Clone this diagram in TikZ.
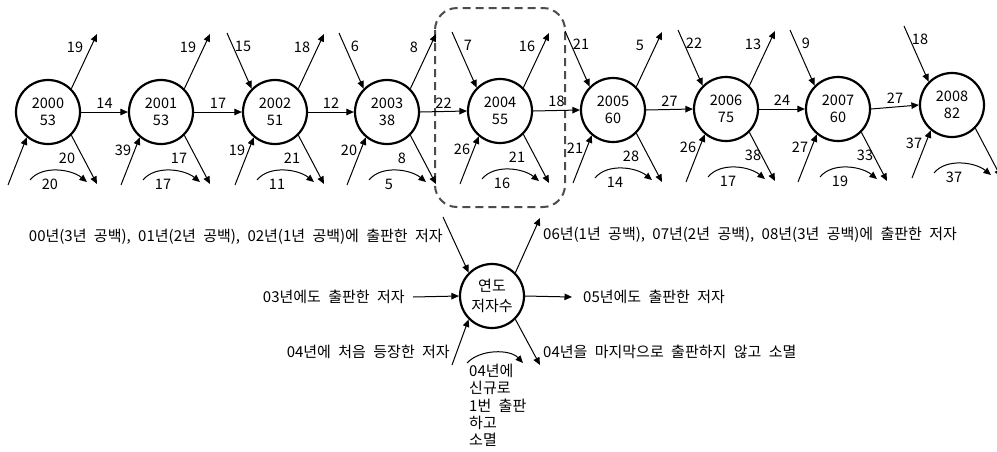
\documentclass[tikz,border=0pt]{standalone}
\usepackage{fontspec}
\setmainfont{Noto Sans CJK KR}
\newfontfamily\krw[WordSpace=2.2]{Noto Sans CJK KR}
\usetikzlibrary{arrows.meta,calc}
\begin{document}
\begin{tikzpicture}[x=1pt,y=-1pt,
  yr/.style={circle, draw, line width=2.2pt, minimum size=64pt, inner sep=0pt, align=center, font=\fontsize{14.5}{17}\selectfont},
  arr/.style={-{Triangle[length=7.5pt,width=6.5pt]}, line width=1pt},
  lbl/.style={font=\fontsize{14.5}{16}\selectfont, inner sep=1pt},
  txt/.style={font=\krw\fontsize{15}{17.3}\selectfont, inner sep=0pt},
  dbox/.style={draw=black!70, line width=2pt, dash pattern=on 8pt off 5pt, rounded corners=22pt}]
\useasboundingbox (0,0) rectangle (997,451);
\newcommand\upout[2]{%
  \path (#1) ++(49,-78) coordinate (#1uo);
  \draw[arr] (#1.45) -- (#1uo);
  \node[lbl] (#1uol) at ($(#1)+(27,-65)$) {#2};}
\newcommand\upin[2]{%
  \path (#1) ++(-48,-79) coordinate (#1ui);
  \draw[arr] (#1ui) -- (#1.135);
  \node[lbl] (#1uil) at ($(#1)+(-32,-66)$) {#2};}
\newcommand\downout[3]{%
  \path (#1) ++(49,72) coordinate (#1do);
  \draw[arr] (#1.-45) -- (#1do);
  \if\relax\detokenize{#2}\relax\else
  \node[lbl] (#1dol) at ($(#1)+(#3,46)$) {#2};\fi}
\newcommand\lowin[2]{%
  \path (#1) ++(-40,73) coordinate (#1li);
  \draw[arr] (#1li) -- (#1.-130);
  \if\relax\detokenize{#2}\relax\else
  \node[lbl] (#1lil) at ($(#1)+(-38,38)$) {#2};\fi}
\newcommand\curv[2]{%
  \path (#1) ++(-18,68) coordinate (#1cs);
  \path (#1) ++(39,70) coordinate (#1ce);
  \draw[arr] (#1cs) .. controls +(12,-15) and +(-16,-13) .. (#1ce);
  \node[lbl] (#1cl) at ($(#1)+(2,72)$) {#2};}
% dashed box
\draw[dbox] (435,8) rectangle (565,207);
% year nodes
\node[yr] (y0) at (48,112) {2000\\53};
\node[yr] (y1) at (161,112) {2001\\53};
\node[yr] (y2) at (275,112) {2002\\51};
\node[yr] (y3) at (387,112) {2003\\38};
\node[yr] (y4) at (500,111) {2004\\55};
\node[yr] (y5) at (613,110) {2005\\60};
\node[yr] (y6) at (726,109) {2006\\75};
\node[yr] (y7) at (838,109) {2007\\60};
\node[yr] (y8) at (952,105) {2008\\82};
% horizontal
\draw[arr] (y0.east) -- node[lbl,above=2pt] (h01) {14} (y1.west);
\draw[arr] (y1.east) -- node[lbl,above=2pt] (h12) {17} (y2.west);
\draw[arr] (y2.east) -- node[lbl,above=2pt] (h23) {12} (y3.west);
\draw[arr] (y3.east) -- node[lbl,above=2pt] (h34) {22} (y4.west);
\draw[arr] (y4.east) -- node[lbl,above=2pt] (h45) {18} (y5.west);
\draw[arr] (y5.east) -- node[lbl,above=2pt] (h56) {27} (y6.west);
\draw[arr] (y6.east) -- node[lbl,above=2pt] (h67) {24} (y7.west);
\draw[arr] (y7.east) -- node[lbl,above=2pt] (h78) {27} (y8.west);
% per node
\upout{y0}{19}\downout{y0}{20}{19}\curv{y0}{20}\lowin{y0}{}
\upout{y1}{19}\downout{y1}{17}{18}\curv{y1}{17}\lowin{y1}{39}
\upin{y2}{15}\upout{y2}{18}\downout{y2}{21}{17}\curv{y2}{11}\lowin{y2}{19}
\upin{y3}{6}\upout{y3}{8}\downout{y3}{8}{15}\curv{y3}{5}\lowin{y3}{20}
\upin{y4}{7}\upout{y4}{16}\downout{y4}{21}{17}\curv{y4}{16}\lowin{y4}{26}
\upin{y5}{21}\upout{y5}{5}\downout{y5}{28}{18}\curv{y5}{14}\lowin{y5}{21}
\upin{y6}{22}\upout{y6}{13}\downout{y6}{38}{27}\curv{y6}{17}\lowin{y6}{26}
\upin{y7}{9}\downout{y7}{33}{27}\curv{y7}{19}\lowin{y7}{27}
\upin{y8}{18}\downout{y8}{}{0}\curv{y8}{37}\lowin{y8}{37}
% bottom legend
\node[yr, font=\fontsize{15}{20}\selectfont] (mid) at (492,296) {연도\\저자수};
\coordinate (mul) at (443,217);
\coordinate (ml) at (413,297);
\coordinate (mll) at (452,365);
\coordinate (mur) at (540,218);
\coordinate (mr) at (572,297);
\coordinate (mlr) at (540,365);
\draw[arr] (mul) -- (mid.135);
\draw[arr] (ml) -- (mid.west);
\draw[arr] (mll) -- (mid.-135);
\draw[arr] (mid.45) -- (mur);
\draw[arr] (mid.east) -- (mr);
\draw[arr] (mid.-45) -- (mlr);
\node[txt, anchor=east] (tul) at (443,237) {00년(3년 공백), 01년(2년 공백), 02년(1년 공백)에 출판한 저자};
\node[txt, anchor=east] (tl) at (405,297) {03년에도 출판한 저자};
\node[txt, anchor=east] (tll) at (450,352) {04년에 처음 등장한 저자};
\node[txt, anchor=west] (tur) at (543,235) {06년(1년 공백), 07년(2년 공백), 08년(3년 공백)에 출판한 저자};
\node[txt, anchor=west] (tr) at (583,297) {05년에도 출판한 저자};
\node[txt, anchor=west] (tlr) at (543,352) {04년을 마지막으로 출판하지 않고 소멸};
\coordinate (mcs) at (467,363);
\coordinate (mce) at (523,363);
\draw[arr] (mcs) .. controls (480,349) and (510,349) .. (mce);
\node[txt, anchor=north west, align=left] (tblk) at (469,364) {04년에\\신규로\\1번 출판\\하고\\소멸};
\end{tikzpicture}
\end{document}
